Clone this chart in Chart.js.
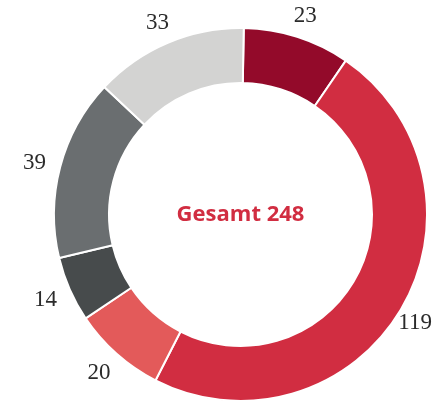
<!DOCTYPE html>
<html>
<head>
<meta charset="utf-8">
<script src="https://cdn.jsdelivr.net/npm/chart.js@4/dist/chart.umd.min.js"></script>
<style>
  html, body { margin: 0; padding: 0; background: #ffffff; }
  #wrap { width: 434px; height: 403px; position: relative; }
</style>
</head>
<body>
<div id="wrap"><canvas id="c" width="434" height="403"></canvas></div>
<script>
const categories = ["A", "B", "C", "D", "E", "F"];
const values = [23, 119, 20, 14, 39, 33];
const colors = ["#930a2a", "#d12d41", "#e35a5a", "#474b4c", "#6a6e70", "#d3d3d2"];
const centerLabel = "Gesamt";
const total = values.reduce((a, b) => a + b, 0);

const labelPlugin = {
  id: "outerLabels",
  afterDatasetsDraw(chart) {
    const ctx = chart.ctx;
    const meta = chart.getDatasetMeta(0);
    const W = chart.width;
    ctx.save();
    ctx.font = "23px 'Liberation Serif'";
    ctx.fillStyle = "#2b2b2b";
    ctx.textAlign = "center";
    ctx.textBaseline = "alphabetic";
    const halfH = 8;
    meta.data.forEach((arc, i) => {
      const p = arc.getProps(["x", "y", "startAngle", "endAngle", "outerRadius"], true);
      const mid = (p.startAngle + p.endAngle) / 2;
      const r = p.outerRadius + 15;
      const txt = String(values[i]);
      const w = ctx.measureText(txt).width;
      const dx = Math.cos(mid), dy = Math.sin(mid);
      let x = p.x + dx * r + dx * w / 2;
      let y = p.y + dy * r + dy * halfH;
      x = Math.max(w / 2 + 2, Math.min(W - w / 2 - 2, x));
      ctx.fillText(txt, x, y + 7.5);
    });
    const a0 = meta.data[0];
    ctx.font = "bold 22px 'Open Sans'";
    ctx.fillStyle = "#d12d41";
    ctx.textBaseline = "middle";
    ctx.fillText(centerLabel + " " + total, a0.x, a0.y);
    ctx.restore();
  }
};

new Chart(document.getElementById("c"), {
  type: "doughnut",
  data: {
    labels: categories,
    datasets: [{
      data: values,
      backgroundColor: colors,
      borderColor: "#ffffff",
      borderWidth: 2,
      hoverOffset: 0
    }]
  },
  options: {
    responsive: false,
    animation: false,
    cutout: "70.5%",
    rotation: 1,
    layout: { padding: { top: 27, bottom: 1, left: 53, right: 6 } },
    plugins: {
      legend: { display: false },
      tooltip: { enabled: false }
    }
  },
  plugins: [labelPlugin]
});
</script>
</body>
</html>
